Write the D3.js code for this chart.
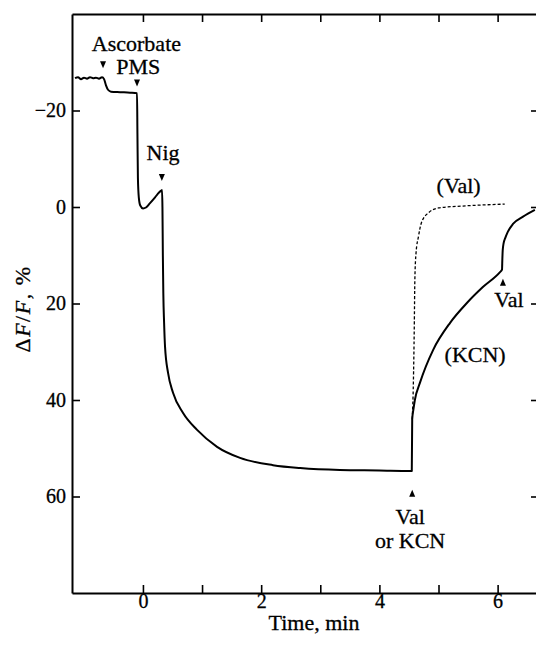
<!DOCTYPE html>
<html>
<head>
<meta charset="utf-8">
<script src="https://cdn.jsdelivr.net/npm/d3@7"></script>
<style>
  html, body { margin: 0; padding: 0; background: #fff; }
  svg { display: block; }
  text { font-family: "Liberation Serif", "Times New Roman", serif; fill: #000; }
</style>
</head>
<body>
<svg id="chart" width="536" height="648"></svg>
<script>
// ---- data (time in min, ΔF/F in %) ----
const solidT = [-1.149,-1.098,-1.047,-0.997,-0.946,-0.895,-0.844,-0.794,-0.743,-0.692,-0.658,-0.625,-0.591,-0.540,-0.387,-0.218,-0.100,
  -0.093,-0.085,-0.070,-0.045,0.002,0.052,0.120,0.205,0.272,0.310,0.323,
  0.330,0.337,0.345,0.358,0.374,0.425,0.509,0.679,0.916,1.254,1.643,2.2,2.66,3.33,4.0,4.52,4.548,
  4.555,4.575,4.60,4.687,4.91,5.196,5.48,5.75,6.04,6.074,
  6.080,6.086,6.100,6.13,6.17,6.26,6.43,6.63];
const solidV = [-26.7,-26.9,-26.5,-26.8,-26.6,-26.9,-26.7,-26.8,-26.6,-26.9,-26.5,-25.2,-24.3,-23.9,-23.8,-23.7,-23.6,
  -15,-6,-2,-0.3,0.3,0.1,-0.8,-2.0,-3.0,-3.4,-3.5,
  0,10,18,24,29,34.4,38.5,42.7,46.2,49.7,52.0,53.5,54.1,54.5,54.6,54.7,54.7,
  44.0,42.0,40.0,36.4,29.6,24.0,19.9,16.6,13.5,13.0,
  10.8,9.0,7.6,6.4,5.2,3.5,2.0,0.6];
const dashT = [4.555,4.575,4.59,4.60,4.62,4.66,4.71,4.83,5.0,5.41,6.12];
const dashV = [44.0,36.4,25,15,9.5,6.2,3.3,1.2,0.2,-0.2,-0.6];

const xTicks = [0,1,2,3,4,5,6];
const xTickLabels = ["0","","2","","4","","6"];
const yTicks = [-20,0,20,40,60];
const yTickLabels = ["\u221220","0","20","40","60"];

// annotations: text lines at (t, v) and arrow markers at (t, v)
const annoText = [
  {t:-0.11, v:-32.4, s:"Ascorbate"},
  {t:-0.08, v:-27.6, s:"PMS"},
  {t: 0.34, v:-9.8,  s:"Nig"},
  {t: 5.34, v:-2.9,  s:"(Val)"},
  {t: 6.19, v:20.7,  s:"Val"},
  {t: 5.62, v:32.1,  s:"(KCN)"},
  {t: 4.52, v:65.7,  s:"Val"},
  {t: 4.52, v:70.6,  s:"or KCN"}
];
const arrowDown = [{t:-0.675, v:-29.4},{t:-0.10, v:-25.6},{t:0.32, v:-6.0}];
const arrowUp = [{t:6.09, v:15.5},{t:4.555, v:59.2}];

// ---- layout ----
const svg = d3.select("#chart");
const L = 72, R = 539, T = 14, B = 593;
const x = d3.scaleLinear().domain([-1.2, 6.7]).range([L, R]);
const y = d3.scaleLinear().domain([-40, 80]).range([T, B]);

function styleAxis(g) {
  g.selectAll("path.domain").attr("stroke", "#000").attr("stroke-width", 2);
  g.selectAll(".tick line").attr("stroke", "#000").attr("stroke-width", 1.6);
  g.selectAll(".tick text").attr("font-size", 20).attr("font-family", "Liberation Serif, serif")
    .attr("fill", "#000").attr("stroke", "#000").attr("stroke-width", 0.3);
}

// bottom
const gB = svg.append("g").attr("transform", `translate(0,${B})`)
  .call(d3.axisBottom(x).tickValues(xTicks).tickSize(-8).tickSizeOuter(0).tickPadding(1)
    .tickFormat((d,i) => xTickLabels[i]));
styleAxis(gB);
// top
const gT = svg.append("g").attr("transform", `translate(0,${T})`)
  .call(d3.axisTop(x).tickValues(xTicks).tickSize(-8).tickSizeOuter(0).tickFormat(""));
styleAxis(gT);
// left
const gL = svg.append("g").attr("transform", `translate(${L},0)`)
  .call(d3.axisLeft(y).tickValues(yTicks).tickSize(-8).tickSizeOuter(0).tickPadding(6)
    .tickFormat((d,i) => yTickLabels[i]));
styleAxis(gL);
// right
const gR = svg.append("g").attr("transform", `translate(${R},0)`)
  .call(d3.axisRight(y).tickValues(yTicks).tickSize(-8).tickSizeOuter(0).tickFormat(""));
styleAxis(gR);

// axis titles
svg.append("text").attr("x", 314).attr("y", 630).attr("text-anchor", "middle")
  .attr("font-size", 22).attr("stroke", "#000").attr("stroke-width", 0.3).text("Time, min");
const yl = svg.append("text").attr("transform", "translate(30,309) rotate(-90)")
  .attr("text-anchor", "middle").attr("font-size", 22).attr("letter-spacing", 1.5)
  .attr("stroke", "#000").attr("stroke-width", 0.3);
yl.append("tspan").text("\u0394");
yl.append("tspan").attr("font-style", "italic").text("F");
yl.append("tspan").text("/");
yl.append("tspan").attr("font-style", "italic").text("F");
yl.append("tspan").text(", %");

// lines
const solidData = solidT.map((t,i) => [t, solidV[i]]);
const dashData = dashT.map((t,i) => [t, dashV[i]]);
const line = d3.line().x(d => x(d[0])).y(d => y(d[1])).curve(d3.curveMonotoneX);

svg.append("path").datum(dashData).attr("d", line)
  .attr("fill", "none").attr("stroke", "#000").attr("stroke-width", 1.3)
  .attr("stroke-dasharray", "3,2");
svg.append("path").datum(solidData).attr("d", line)
  .attr("fill", "none").attr("stroke", "#000").attr("stroke-width", 2)
  .attr("stroke-linejoin", "round");

// annotation text
svg.selectAll("text.anno").data(annoText).enter().append("text")
  .attr("class", "anno").attr("x", d => x(d.t)).attr("y", d => y(d.v))
  .attr("text-anchor", "middle").attr("font-size", 22)
  .attr("stroke", "#000").attr("stroke-width", 0.3).text(d => d.s);

// arrows
svg.selectAll("path.adown").data(arrowDown).enter().append("path")
  .attr("class", "adown")
  .attr("d", d => { const px = x(d.t), py = y(d.v); return `M${px-3},${py-4}L${px+3},${py-4}L${px},${py+3}Z`; })
  .attr("fill", "#000");
svg.selectAll("path.aup").data(arrowUp).enter().append("path")
  .attr("class", "aup")
  .attr("d", d => { const px = x(d.t), py = y(d.v); return `M${px-3},${py+4}L${px+3},${py+4}L${px},${py-3}Z`; })
  .attr("fill", "#000");
</script>
</body>
</html>
